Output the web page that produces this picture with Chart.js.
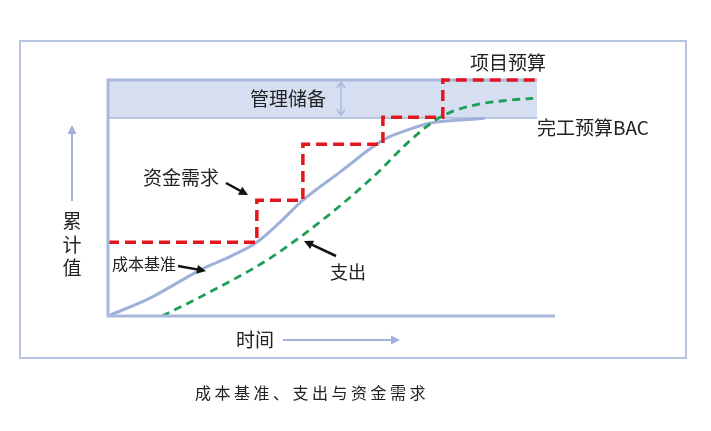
<!DOCTYPE html>
<html><head><meta charset="utf-8">
<script src="https://cdn.jsdelivr.net/npm/chart.js@4"></script>
<style>html,body{margin:0;padding:0;background:#fff}canvas{display:block}</style>
</head><body><canvas id="c" width="711" height="431"></canvas>
<script>
// Funding requirements (step line)
const fundingTime  = [0, 3.33, 3.33, 4.36, 4.36, 6.15, 6.15, 7.49, 7.49, 9.6];
const fundingValue = [29.7, 29.7, 46.6, 46.6, 69.1, 69.1, 80, 80, 95, 95];
// Cost baseline (S-curve)
const baselineTime  = [0, 0.94, 2.06, 2.80, 3.33, 3.85, 4.36, 5.19, 6.15, 6.69, 7.20, 7.81, 8.43];
const baselineValue = [0, 7.2, 18.5, 24.5, 29.7, 37.8, 46.6, 57.9, 70.8, 74.8, 77.6, 78.8, 79.6];
// Expenditures
const spendTime  = [1.21, 2.06, 3.56, 4.36, 5.26, 6.09, 6.69, 7.43, 8.17, 8.93, 9.51];
const spendValue = [0, 7.6, 22.5, 32.6, 45.4, 58.7, 69.5, 80.0, 84.8, 86.8, 87.6];
// Management reserve band
const reserveTime = [0, 9.6];
const projectBudget = [95, 95];   // 项目预算
const bacValue = [80, 80];        // 完工预算BAC
// Text
const labelReserve = '管理储备';
const labelBudget = '项目预算';
const labelBAC = '完工预算BAC';
const labelFunding = '资金需求';
const labelBaseline = '成本基准';
const labelSpend = '支出';
const labelY = ['累', '计', '值'];
const labelX = '时间';
const caption = '成本基准、支出与资金需求';

const pts = (xs, ys) => xs.map((x, i) => ({x, y: ys[i]}));
const FONT = '"Noto Sans CJK SC", "Noto Sans", sans-serif';
const AX = '#a9b8dc';

function arrow(ctx, x1, y1, x2, y2, color, w, head) {
  const a = Math.atan2(y2 - y1, x2 - x1);
  ctx.save();
  ctx.strokeStyle = color; ctx.fillStyle = color; ctx.lineWidth = w;
  ctx.beginPath();
  ctx.moveTo(x1, y1);
  ctx.lineTo(x2 - head * 0.7 * Math.cos(a), y2 - head * 0.7 * Math.sin(a));
  ctx.stroke();
  ctx.beginPath();
  ctx.moveTo(x2, y2);
  ctx.lineTo(x2 - head * Math.cos(a) + head * 0.5 * Math.sin(a), y2 - head * Math.sin(a) - head * 0.5 * Math.cos(a));
  ctx.lineTo(x2 - head * Math.cos(a) - head * 0.5 * Math.sin(a), y2 - head * Math.sin(a) + head * 0.5 * Math.cos(a));
  ctx.closePath();
  ctx.fill();
  ctx.restore();
}

const deco = {
  id: 'deco',
  beforeDatasetsDraw(chart) {
    const ctx = chart.ctx, ca = chart.chartArea;
    ctx.save();
    // outer frame
    ctx.strokeStyle = '#b7c4e2'; ctx.lineWidth = 2;
    ctx.strokeRect(20, 41, 666, 317);
    ctx.restore();
  },
  afterDatasetsDraw(chart) {
    const ctx = chart.ctx, ca = chart.chartArea;
    const xs = chart.scales.x, ys = chart.scales.y;
    ctx.save();
    // axes
    ctx.strokeStyle = AX; ctx.lineWidth = 3; ctx.lineCap = 'butt';
    ctx.beginPath();
    ctx.moveTo(ca.left, ys.getPixelForValue(95) - 1.5);
    ctx.lineTo(ca.left, ca.bottom);
    ctx.lineTo(ca.right, ca.bottom);
    ctx.stroke();
    // double arrow in reserve band
    const yt = ys.getPixelForValue(95), yb = ys.getPixelForValue(80);
    ctx.strokeStyle = AX; ctx.fillStyle = AX; ctx.lineWidth = 1.5;
    ctx.beginPath(); ctx.moveTo(341, yt + 3); ctx.lineTo(341, yb - 3); ctx.stroke();
    ctx.beginPath(); ctx.moveTo(341, yt + 2); ctx.lineTo(337, yt + 8); ctx.moveTo(341, yt + 2); ctx.lineTo(345, yt + 8); ctx.stroke();
    ctx.beginPath(); ctx.moveTo(341, yb - 2); ctx.lineTo(337, yb - 8); ctx.moveTo(341, yb - 2); ctx.lineTo(345, yb - 8); ctx.stroke();
    // blue axis arrows
    arrow(ctx, 72, 201, 72, 125, '#a3b2d9', 2, 9);
    arrow(ctx, 283, 340, 400, 340, '#a3b2d9', 2, 9);
    // black pointer arrows
    arrow(ctx, 226, 183, 248, 195, '#111', 2.5, 9);
    arrow(ctx, 178, 266, 206, 271, '#111', 2.5, 9);
    arrow(ctx, 336, 256, 304, 241, '#111', 2.5, 9);
    // texts
    ctx.fillStyle = '#222';
    ctx.textBaseline = 'middle';
    ctx.font = '19px ' + FONT;
    ctx.textAlign = 'center';
    ctx.fillText(labelReserve, 288, 99);
    ctx.fillText(labelBudget, 508, 63);
    labelY.forEach((ch, i) => ctx.fillText(ch, 72, 221 + i * 23.5));
    ctx.textAlign = 'left';
    ctx.fillText(labelBAC, 537, 128);
    ctx.fillText(labelFunding, 143, 178);
    ctx.fillText(labelX, 236, 340);
    ctx.font = '18px ' + FONT;
    ctx.fillText(labelSpend, 330, 272);
    ctx.font = '16px ' + FONT;
    ctx.fillText(labelBaseline, 112, 264);
    ctx.textAlign = 'left';
    ctx.font = '16px ' + FONT;
    try { ctx.letterSpacing = '3.5px'; } catch (e) {}
    ctx.fillText(caption, 195, 393);
    ctx.restore();
  }
};

new Chart(document.getElementById('c'), {
  type: 'line',
  data: {
    datasets: [
      { data: pts(fundingTime, fundingValue), borderColor: '#e3161d', borderWidth: 3.5,
        borderDash: [11, 6], pointRadius: 0, tension: 0, fill: false, clip: false },
      { data: pts(spendTime, spendValue), borderColor: '#1c9f56', borderWidth: 2.8,
        borderDash: [8, 5.5], pointRadius: 0, tension: 0.4, cubicInterpolationMode: 'monotone', fill: false, clip: false },
      { data: pts(baselineTime, baselineValue), borderColor: '#9fb0da', borderWidth: 3,
        pointRadius: 0, cubicInterpolationMode: 'monotone', fill: false, clip: false },
      { data: pts(reserveTime, projectBudget), borderColor: AX, borderWidth: 3,
        backgroundColor: '#d6dff1', pointRadius: 0, fill: '+1', clip: false },
      { data: pts(reserveTime, bacValue), borderColor: AX, borderWidth: 3,
        pointRadius: 0, fill: false, clip: false }
    ]
  },
  options: {
    responsive: false,
    animation: false,
    events: [],
    layout: { padding: { left: 108, right: 156, top: 80, bottom: 115 } },
    plugins: { legend: { display: false }, tooltip: { enabled: false } },
    scales: {
      x: { type: 'linear', min: 0, max: 10, display: false },
      y: { type: 'linear', min: 0, max: 95, display: false }
    }
  },
  plugins: [deco]
});
</script>
</body></html>
